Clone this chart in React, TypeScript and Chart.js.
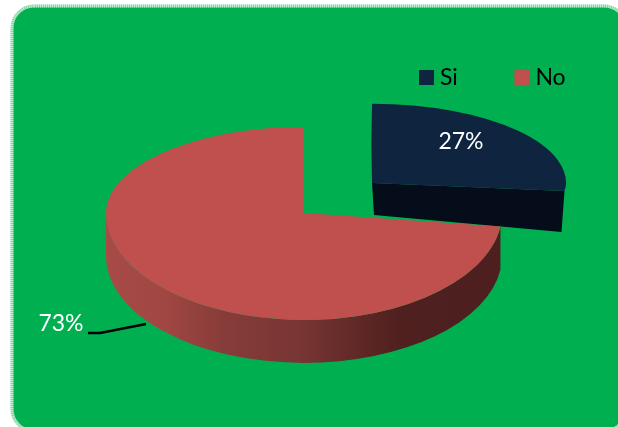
import React, { useEffect, useRef } from "react";
import { Chart, registerables } from "chart.js";

Chart.register(...registerables);

const categories = ["Si", "No"];
const shares = [27, 73];
const sliceColors = ["#0f243e", "#c0504d"];

const WIDTH = 618;
const HEIGHT = 427;
const RADIUS = 198;
const FONT = "Lato, Carlito, sans-serif";
const FONT_SIZE = 23;

// Each slice sits on a tilted plane: the far half is flattened more than the near half.
const sliceFrames = [
  { apexX: 372, apexY: 183, scaleX: 0.98, far: 0.4, near: 0.32 },
  { apexX: 304, apexY: 213, scaleX: 1, far: 0.434, near: 0.54 },
];

const RED_WALL_DEPTH = 43;
const wallStops: [number, string][] = [
  [0, "#a84b48"],
  [0.15, "#a04643"],
  [0.3, "#873c39"],
  [0.5, "#763533"],
  [0.65, "#5e2725"],
  [0.75, "#4e201e"],
  [1, "#4d1f1e"],
];

const labelAnchors = [
  { x: 461, y: 142 },
  { x: 61, y: 324 },
];
const leaderPath = [
  [88, 333],
  [100, 333],
  [146, 324],
];

function roundedPanel(ctx: CanvasRenderingContext2D) {
  ctx.beginPath();
  ctx.roundRect(12, 6, 614, 425, 22);
}

const tiltedPie = {
  id: "tiltedPie",
  beforeDraw(chart: any) {
    const { ctx } = chart;
    ctx.save();
    ctx.fillStyle = "#ffffff";
    ctx.fillRect(0, 0, WIDTH, HEIGHT);
    roundedPanel(ctx);
    ctx.fillStyle = "#00b050";
    ctx.fill();
    // Speckled pale rim around the panel.
    ctx.lineWidth = 3;
    ctx.strokeStyle = "#7fd6a3";
    ctx.stroke();
    ctx.setLineDash([1, 1]);
    ctx.strokeStyle = "rgba(255,255,255,0.55)";
    ctx.stroke();
    ctx.restore();
  },
  afterLayout(chart: any) {
    // The legend floats over the panel, above the raised slice.
    chart.legend.left = 362.5;
    chart.legend.right = 2000;
    chart.legend.top = 4;
  },
  beforeDatasetDraw(chart: any, args: any) {
    const { ctx } = chart;
    const arcs = args.meta.data;
    const drawHalves = (arc: any, f: (typeof sliceFrames)[number]) => {
      const halves = [
        { top: 0, height: f.apexY, k: f.far },
        { top: f.apexY, height: HEIGHT - f.apexY, k: f.near },
      ];
      halves.forEach((h) => {
        ctx.save();
        ctx.beginPath();
        ctx.rect(0, h.top, WIDTH, h.height);
        ctx.clip();
        ctx.translate(f.apexX, f.apexY);
        ctx.scale(f.scaleX, h.k);
        ctx.translate(-arc.x, -arc.y);
        arc.draw(ctx);
        ctx.restore();
      });
    };

    // Raised slice: cut face first, then its top.
    const si = sliceFrames[0];
    const siEnd = arcs[0].endAngle;
    const cornerX = si.apexX + si.scaleX * RADIUS * Math.cos(siEnd);
    const cornerY = si.apexY + si.near * RADIUS * Math.sin(siEnd);
    ctx.save();
    ctx.beginPath();
    ctx.moveTo(si.apexX - 1, 104);
    ctx.lineTo(si.apexX + 1, si.apexY);
    ctx.lineTo(cornerX, cornerY);
    ctx.lineTo(cornerX - 3, cornerY + 41);
    ctx.lineTo(si.apexX + 2, si.apexY + 32);
    ctx.lineTo(si.apexX, si.apexY);
    ctx.closePath();
    ctx.fillStyle = "#060d1a";
    ctx.fill();
    ctx.restore();
    drawHalves(arcs[0], si);

    // Main slice: curved wall with its shading, then the top.
    const no = sliceFrames[1];
    const start = arcs[1].startAngle;
    const ry = RADIUS * no.near;
    const g = ctx.createLinearGradient(no.apexX - RADIUS, 0, no.apexX + RADIUS, 0);
    wallStops.forEach(([o, c]) => g.addColorStop(o, c));
    ctx.save();
    ctx.beginPath();
    ctx.ellipse(no.apexX, no.apexY, RADIUS, ry, 0, start, Math.PI, false);
    ctx.ellipse(no.apexX, no.apexY + RED_WALL_DEPTH, RADIUS, ry, 0, Math.PI, start, true);
    ctx.closePath();
    ctx.fillStyle = g;
    ctx.fill();
    ctx.restore();
    drawHalves(arcs[1], no);
    return false;
  },
  afterDatasetsDraw(chart: any) {
    const { ctx } = chart;
    ctx.save();
    ctx.strokeStyle = "#000000";
    ctx.lineWidth = 2.5;
    ctx.beginPath();
    leaderPath.forEach(([x, y], i) => (i ? ctx.lineTo(x, y) : ctx.moveTo(x, y)));
    ctx.stroke();
    ctx.fillStyle = "#ffffff";
    ctx.font = `${FONT_SIZE}px ${FONT}`;
    ctx.textAlign = "center";
    ctx.textBaseline = "middle";
    shares.forEach((v, i) => ctx.fillText(`${v}%`, labelAnchors[i].x, labelAnchors[i].y));
    ctx.restore();
  },
};

export default function App() {
  const ref = useRef<HTMLCanvasElement>(null);
  useEffect(() => {
    const chart = new Chart(ref.current!, {
      type: "pie",
      data: {
        labels: categories,
        datasets: [
          {
            data: shares,
            backgroundColor: sliceColors,
            borderWidth: 0,
            radius: RADIUS,
            clip: false,
          } as any,
        ],
      },
      options: {
        responsive: false,
        animation: false,
        plugins: {
          tooltip: { enabled: false },
          legend: {
            display: true,
            position: "top",
            align: "start",
            labels: {
              usePointStyle: true,
              pointStyle: "rect",
              boxWidth: 4,
              boxHeight: 15,
              padding: 62,
              color: "#000000",
              font: { family: FONT, size: FONT_SIZE },
            },
          },
        },
      },
      plugins: [tiltedPie],
    } as any);
    return () => chart.destroy();
  }, []);
  return (
    <canvas
      ref={ref}
      width={WIDTH}
      height={HEIGHT}
      style={{ position: "fixed", left: 0, top: 0, display: "block" }}
    />
  );
}
